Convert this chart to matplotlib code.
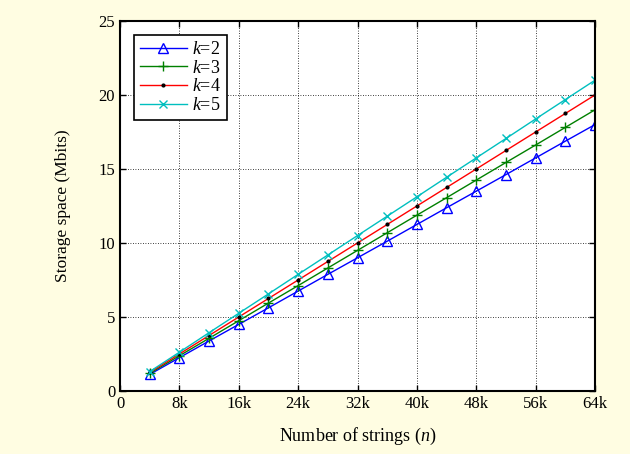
import matplotlib
matplotlib.use("Agg")
from matplotlib import pyplot as plt

# number of strings (in thousands)
n = [4, 8, 12, 16, 20, 24, 28, 32, 36, 40, 44, 48, 52, 56, 60, 64]

k2 = [1.12, 2.25, 3.38, 4.5, 5.62, 6.75, 7.88, 9.0, 10.12, 11.25, 12.38, 13.5, 14.62, 15.75, 16.88, 18.0]
k3 = [1.19, 2.38, 3.56, 4.75, 5.94, 7.12, 8.31, 9.5, 10.69, 11.88, 13.06, 14.25, 15.44, 16.62, 17.81, 19.0]
k4 = [1.25, 2.5, 3.75, 5.0, 6.25, 7.5, 8.75, 10.0, 11.25, 12.5, 13.75, 15.0, 16.25, 17.5, 18.75, 20.0]
k5 = [1.31, 2.62, 3.94, 5.25, 6.56, 7.88, 9.19, 10.5, 11.81, 13.12, 14.44, 15.75, 17.06, 18.38, 19.69, 21.0]

xticks = [0, 8, 16, 24, 32, 40, 48, 56, 64]
xlabels = ["0", "8k", "16k", "24k", "32k", "40k", "48k", "56k", "64k"]

plt.rcParams["font.family"] = ["Liberation Serif", "DejaVu Serif"]
plt.rcParams["mathtext.fontset"] = "custom"
plt.rcParams["mathtext.it"] = "Liberation Serif:italic"
plt.rcParams["mathtext.rm"] = "Liberation Serif"

bg = "#fffde2"
fig = plt.figure(figsize=(6.3, 4.54), dpi=100, facecolor=bg)
ax = fig.add_axes([0.1905, 0.1388, 0.754, 0.815])

ax.plot(n, k2, color="#0000ff", lw=1, marker="^", ms=7, mfc="none", mew=1, label="$k$=2")
ax.plot(n, k3, color="#008000", lw=1, marker="+", ms=7, mew=1, label="$k$=3")
ax.plot(n, k4, color="#ff0000", lw=1, marker=".", ms=4, mfc="black", mec="black", label="$k$=4")
ax.plot(n, k5, color="#00bfbf", lw=1, marker="x", ms=6, mew=1, label="$k$=5")

ax.set_xlim(0, 64)
ax.set_ylim(0, 25)
ax.set_xticks(xticks)
ax.set_xticklabels(xlabels)
ax.set_yticks([0, 5, 10, 15, 20, 25])
ax.tick_params(direction="in", labelsize=12, length=4, width=1, top=True, right=True)
ax.grid(True, color="black", linestyle=(0, (1, 2)), linewidth=0.6)
for s in ax.spines.values():
    s.set_linewidth(1.5)

ax.set_xlabel("Number of strings ($n$)", fontsize=13, labelpad=10)
ax.set_ylabel("Storage space (Mbits)", fontsize=12.5, labelpad=20)

leg = ax.legend(loc="upper left", fontsize=13, fancybox=False, framealpha=1,
                edgecolor="black", handlelength=2.6, handletextpad=0.3,
                labelspacing=0.1, borderpad=0.3, borderaxespad=0.8)
leg.get_frame().set_linewidth(1.2)

fig.savefig("out.png", dpi=100, facecolor=bg)
